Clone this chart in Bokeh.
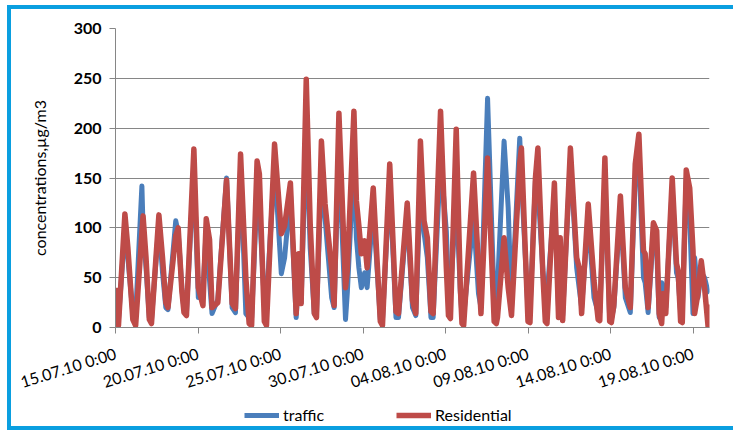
from bokeh.plotting import figure
from bokeh.models import Range1d, FixedTicker, Legend, LegendItem, Div
from bokeh.layouts import row, column
from bokeh.embed import file_html
from bokeh.resources import INLINE

# time in days since 15.07.10 0:00
days = [0.00, 0.08, 0.18, 0.57, 0.75, 1.05, 1.22, 1.60, 1.67, 1.85, 2.05, 2.18, 2.63, 2.85,
        3.05, 3.18, 3.65, 3.80, 4.02, 4.15, 4.30, 4.75, 5.02, 5.30, 5.50, 5.70, 5.85, 6.20,
        6.73, 7.07, 7.27, 7.58, 7.90, 8.10, 8.25, 8.58, 8.72, 9.02, 9.15, 9.64, 10.05, 10.25,
        10.60, 10.95, 11.10, 11.25, 11.56, 11.80, 12.05, 12.18, 12.48, 12.70, 13.10, 13.25,
        13.54, 13.94, 14.05, 14.45, 14.60, 14.75, 14.90, 15.10, 15.25, 15.62, 16.05, 16.18,
        16.62, 17.00, 17.15, 17.68, 18.00, 18.20, 18.48, 18.70, 18.90, 19.12, 19.25, 19.70,
        20.05, 20.18, 20.30, 20.65, 20.90, 21.00, 21.10, 21.70, 22.00, 22.15, 22.55, 22.95,
        23.08, 23.15, 23.55, 23.80, 24.00, 24.50, 24.60, 25.00, 25.12, 25.45, 25.60, 25.90,
        26.05, 26.15, 26.60, 26.85, 26.95, 27.10, 27.57, 27.95, 28.10, 28.25, 28.65, 29.00,
        29.25, 29.35, 29.66, 29.95, 30.05, 30.20, 30.60, 30.90, 31.20, 31.50, 31.72, 32.00,
        32.10, 32.28, 32.60, 32.80, 32.95, 33.10, 33.20, 33.35, 33.74, 34.00, 34.10, 34.25,
        34.35, 34.59, 34.80, 35.00, 35.10, 35.30, 35.50, 35.70, 35.92, 35.97]

residential = [40, 5, 2, 114, 80, 8, 2, 95, 112, 70, 8, 4, 113, 70,
               25, 20, 92, 100, 37, 15, 12, 179, 40, 22, 109, 88, 20, 25,
               148, 24, 19, 174, 50, 4, 2, 167, 154, 6, 2, 184, 94, 102,
               145, 14, 74, 24, 249, 104, 14, 10, 187, 124, 59, 22,
               215, 40, 57, 217, 127, 102, 74, 87, 60, 140, 6, 2,
               164, 16, 14, 125, 27, 14, 187, 107, 90, 16, 14, 217,
               60, 12, 9, 199, 40, 4, 2, 155, 60, 14, 170, 6,
               4, 10, 90, 40, 12, 165, 180, 6, 5, 150, 180, 54,
               6, 4, 145, 10, 90, 7, 180, 70, 60, 14, 124, 47,
               8, 7, 170, 6, 5, 22, 132, 40, 20, 164, 194, 77,
               74, 20, 105, 97, 14, 4, 34, 14, 150, 64, 57, 6,
               5, 158, 140, 77, 14, 34, 67, 40, 0, 23]

traffic = [15, 8, 8, 98, 70, 14, 12, 142, 100, 60, 10, 8, 105, 55,
           20, 18, 107, 95, 40, 18, 15, 160, 30, 35, 100, 47, 14, 28,
           150, 20, 15, 160, 14, 10, 10, 135, 120, 25, 25, 165, 54, 70,
           135, 10, 50, 25, 200, 80, 14, 14, 150, 110, 30, 20,
           180, 8, 35, 170, 90, 60, 40, 55, 40, 120, 8, 8,
           145, 10, 10, 115, 20, 12, 140, 95, 70, 10, 10, 170,
           97, 40, 30, 135, 35, 12, 12, 111, 34, 20, 230, 27,
           30, 39, 187, 120, 20, 190, 150, 17, 17, 147, 140, 57,
           30, 30, 130, 20, 60, 12, 170, 60, 40, 20, 110, 30,
           15, 15, 150, 8, 8, 20, 120, 30, 15, 150, 170, 50,
           45, 15, 95, 80, 10, 45, 40, 20, 140, 55, 50, 15,
           15, 150, 110, 14, 70, 30, 55, 50, 35, 34]

tick_days = [0, 5, 10, 15, 20, 25, 30, 35]
tick_labels = ["15.07.10 0:00", "20.07.10 0:00", "25.07.10 0:00", "30.07.10 0:00",
               "04.08.10 0:00", "09.08.10 0:00", "14.08.10 0:00", "19.08.10 0:00"]
y_ticks = [0, 50, 100, 150, 200, 250, 300]
series_names = ["traffic", "Residential"]

FONT = "Lato"
GRID = "#868686"
BLUE = "#4A7EBB"
RED = "#BE4B48"
FRAME = "#0A9FE0"

W = 722
p = figure(width=W, height=396, output_backend="svg", toolbar_location=None,
           x_range=Range1d(0, 36), y_range=Range1d(0, 300),
           min_border_left=104, min_border_right=24, min_border_top=19, min_border_bottom=78)
p.outline_line_color = None
p.background_fill_color = "white"
p.border_fill_color = "white"
p.margin = 0

p.line(days, traffic, line_color=BLUE, line_width=5, line_join="round")
p.line(days, residential, line_color=RED, line_width=5.5, line_join="round")

p.xgrid.visible = False
p.ygrid.grid_line_color = GRID
p.ygrid.grid_line_width = 1
p.ygrid.ticker = FixedTicker(ticks=y_ticks)

yax = p.yaxis[0]
yax.ticker = FixedTicker(ticks=y_ticks)
yax.axis_line_color = GRID
yax.major_tick_line_color = GRID
yax.major_tick_out = 6
yax.major_tick_in = 0
yax.minor_tick_line_color = None
yax.major_label_text_font = FONT
yax.major_label_text_font_style = "bold"
yax.major_label_text_font_size = "16px"
yax.major_label_text_color = "black"
yax.major_label_standoff = 8
yax.axis_label = "concentrations,µg/m3"
yax.axis_label_text_font = FONT
yax.axis_label_text_font_style = "normal"
yax.axis_label_text_font_size = "16px"
yax.axis_label_text_color = "black"
yax.axis_label_standoff = 22

xax = p.xaxis[0]
xax.ticker = FixedTicker(ticks=tick_days)
xax.major_label_overrides = {d: lab for d, lab in zip(tick_days, tick_labels)}
xax.axis_line_color = GRID
xax.major_tick_line_color = GRID
xax.major_tick_out = 6
xax.major_tick_in = 0
xax.minor_tick_line_color = None
xax.major_label_orientation = 0.3
xax.major_label_text_font = FONT
xax.major_label_text_font_size = "16px"
xax.major_label_text_color = "black"
xax.major_label_standoff = 19

# legend strip (separate small figure, no axes)
pl = figure(width=W, height=21, output_backend="svg", toolbar_location=None,
            x_range=Range1d(0, 1), y_range=Range1d(0, 1),
            x_axis_location=None, y_axis_location=None, min_border=0)
pl.grid.visible = False
pl.outline_line_color = None
pl.border_fill_color = "white"
pl.margin = 0
lb = pl.line([-5, -4], [-5, -4], line_color=BLUE, line_width=5)
lr = pl.line([-5, -4], [-5, -4], line_color=RED, line_width=5.5)
legend = Legend(items=[LegendItem(label=series_names[0], renderers=[lb]),
                       LegendItem(label=series_names[1], renderers=[lr])],
                location=(129, 2), orientation="horizontal", spacing=72,
                glyph_width=35, glyph_height=16, label_standoff=4, label_height=16,
                padding=0, margin=0, border_line_color=None, background_fill_alpha=0,
                label_text_font=FONT, label_text_font_size="16px", label_text_color="black")
pl.add_layout(legend)

bar_left = Div(text="", width=4, height=425, margin=0, styles={"background-color": FRAME})
bar_top = Div(text="", width=W, height=4, margin=0, styles={"background-color": FRAME})
bar_bottom = Div(text="", width=W, height=4, margin=0, styles={"background-color": FRAME})
page = row(bar_left, column(bar_top, p, pl, bar_bottom, spacing=0), spacing=0, margin=(5, 0, 0, 7))

open("out.html", "w").write(file_html(page, INLINE))
